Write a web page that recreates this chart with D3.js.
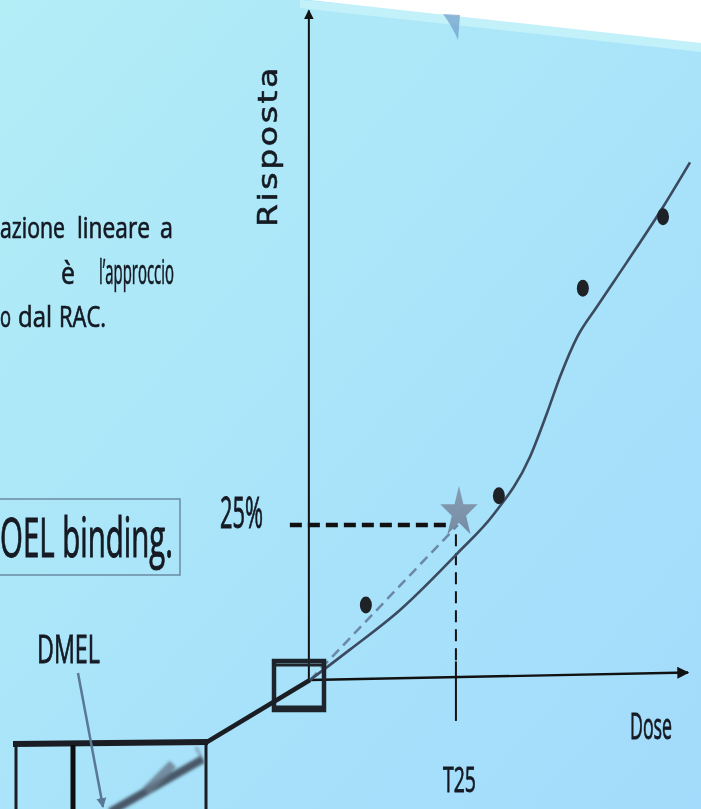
<!DOCTYPE html>
<html lang="it">
<head>
<meta charset="UTF-8">
<title>Risposta / Dose</title>
<script src="https://cdn.jsdelivr.net/npm/d3@7"></script>
<style>
  html, body { margin: 0; padding: 0; background: #fff; }
  svg { display: block; }
</style>
</head>
<body>
<svg id="main" width="701" height="809"></svg>
<script>
    // dose (0-100) / risposta (%)
    const pointDose = [14.7, 49.7, 71.8, 92.9];
    const pointResp = [12.1, 29.7, 63.2, 74.7];

    const curveDose = [0, 10.5, 23.7, 38.9, 48.2, 57.9, 62.4, 65.8, 70.3, 75.5, 83.4, 92.9, 100];
    const curveResp = [0, 4.9, 11.3, 20.5, 26.6, 36.0, 43.1, 48.9, 55.3, 60.2, 67.4, 76.3, 83.5];

    const t25Dose = 38.9;
    const t25Resp = 25;

    // justified paragraph, cut at the left edge of the photo
    const line1 = ["azione", "lineare", "a"];
    const line2 = ["è", "l’approccio"];
    const line3 = ["o", "dal", "RAC."];

    const svg = d3.select('#main');
    const defs = svg.append('defs');

    // squeeze a text into a given width (the slide text is seen at an angle)
    function fitText(g, str, x0, y0, width, size) {
        const t = g.append('text').style('font-size', size + 'px').text(str);
        const len = t.node().getComputedTextLength();
        t.attr('transform', `translate(${x0},${y0}) scale(${width / len},1)`);
        return t;
    }

    // slide background
    const bg = defs.append('linearGradient').attr('id', 'bg')
        .attr('x1', 0).attr('y1', 0).attr('x2', 1).attr('y2', 1);
    bg.append('stop').attr('offset', 0).attr('stop-color', '#b3edf6');
    bg.append('stop').attr('offset', 0.5).attr('stop-color', '#a9e4fa');
    bg.append('stop').attr('offset', 1).attr('stop-color', '#a2dbfb');

    const starGrad = defs.append('linearGradient').attr('id', 'starg')
        .attr('x1', 0).attr('y1', 0).attr('x2', 0).attr('y2', 1);
    starGrad.append('stop').attr('offset', 0).attr('stop-color', '#8699ae');
    starGrad.append('stop').attr('offset', 1).attr('stop-color', '#72889f');

    defs.append('filter').attr('id', 'blur')
        .append('feGaussianBlur').attr('stdDeviation', 1.4);
    defs.append('filter').attr('id', 'soft')
        .append('feGaussianBlur').attr('stdDeviation', 0.4);

    defs.append('marker').attr('id', 'arrowBlack')
        .attr('viewBox', '0 0 10 10').attr('refX', 9).attr('refY', 5)
        .attr('markerWidth', 5).attr('markerHeight', 5).attr('orient', 'auto')
        .append('path').attr('d', 'M0,0 L10,5 L0,10 z').attr('fill', '#111');

    defs.append('marker').attr('id', 'arrowBlue')
        .attr('viewBox', '0 0 10 10').attr('refX', 9).attr('refY', 5)
        .attr('markerWidth', 4).attr('markerHeight', 5).attr('orient', 'auto')
        .append('path').attr('d', 'M0,0 L10,5 L0,10 z').attr('fill', '#587894');

    svg.append('rect').attr('width', 701).attr('height', 809).attr('fill', 'url(#bg)');

    // top edge of the slide (bevel + white beyond it)
    svg.append('polygon').attr('points', '300,0 701,36 701,52 300,8').attr('fill', '#c2f1fa');
    svg.append('polygon').attr('points', '310,0 701,0 701,43').attr('fill', '#ffffff');
    svg.append('path').attr('d', 'M443,14 L460,15 L458,40 Q452,26 443,14 z')
        .attr('fill', '#6f9cc8').attr('opacity', 0.7);

    // scales
    const x = d3.scaleLinear().domain([0, 100]).range([310, 690]);
    const y = d3.scaleLinear().domain([0, 100]).range([680, 60]);

    // left-hand text
    const txt = svg.append('g').attr('fill', '#141a22').attr('filter', 'url(#soft)')
        .attr('stroke', '#141a22').attr('stroke-width', 0.7)
        .style('font-family', '"Open Sans", sans-serif');
    fitText(txt, line1[0], 0, 238, 65, 29);
    fitText(txt, line1[1], 77, 238, 73, 29);
    fitText(txt, line1[2], 160, 238, 13, 29);
    fitText(txt, line2[0], 61, 284, 14, 31);
    fitText(txt, line2[1], 99, 284, 75, 34);
    fitText(txt, line3[0], 0, 327, 11, 30);
    fitText(txt, line3[1], 18, 327, 34, 30);
    fitText(txt, line3[2], 59, 327, 47, 30);

    // boxed statement
    svg.append('rect').attr('x', -2).attr('y', 499).attr('width', 182).attr('height', 76)
        .attr('fill', 'none').attr('stroke', '#6a8aa2').attr('stroke-width', 1.5);
    const boxed = svg.append('g').attr('fill', '#141a22').attr('filter', 'url(#soft)')
        .attr('stroke', '#141a22').attr('stroke-width', 1)
        .style('font-family', '"Open Sans", sans-serif');
    fitText(boxed, 'OEL binding.', 0, 557, 173, 54);

    // axes
    svg.append('line')
        .attr('x1', x(-0.3)).attr('y1', y(0)).attr('x2', x(-0.3)).attr('y2', y(108))
        .attr('stroke', '#111').attr('stroke-width', 2).attr('marker-end', 'url(#arrowBlack)');
    svg.append('line')
        .attr('x1', x(0)).attr('y1', y(0)).attr('x2', x(99.5)).attr('y2', y(1.2))
        .attr('stroke', '#111').attr('stroke-width', 2.4).attr('marker-end', 'url(#arrowBlack)');

    // 25% level
    svg.append('line')
        .attr('x1', x(-5.3)).attr('y1', y(t25Resp)).attr('x2', x(t25Dose - 2)).attr('y2', y(t25Resp))
        .attr('stroke', '#111').attr('stroke-width', 4.5).attr('stroke-dasharray', '12 6');

    // T25 drop line
    svg.append('line')
        .attr('x1', x(t25Dose - 0.5)).attr('y1', y(t25Resp - 1.5)).attr('x2', x(t25Dose - 0.5)).attr('y2', y(3))
        .attr('stroke', '#111').attr('stroke-width', 2).attr('stroke-dasharray', '12 7');
    svg.append('line')
        .attr('x1', x(t25Dose - 0.5)).attr('y1', y(3)).attr('x2', x(t25Dose - 0.5)).attr('y2', y(-6.6))
        .attr('stroke', '#111').attr('stroke-width', 2);

    // linear extrapolation to the T25 point
    svg.append('line')
        .attr('x1', x(0)).attr('y1', y(0)).attr('x2', x(t25Dose)).attr('y2', y(t25Resp))
        .attr('stroke', '#6c88a4').attr('stroke-width', 2.5).attr('stroke-dasharray', '10 6');

    // fitted curve
    const curve = curveDose.map((d, i) => [d, curveResp[i]]);
    svg.append('path').datum(curve)
        .attr('d', d3.line().x(d => x(d[0])).y(d => y(d[1])).curve(d3.curveMonotoneX))
        .attr('fill', 'none').attr('stroke', '#3b4a5e').attr('stroke-width', 2.6);

    // observed points
    svg.selectAll('.pt').data(pointDose).join('ellipse').attr('class', 'pt')
        .attr('cx', d => x(d)).attr('cy', (d, i) => y(pointResp[i]))
        .attr('rx', 6).attr('ry', 8.5).attr('fill', '#1e2126');

    // T25 star
    svg.append('path')
        .attr('d', d3.symbol(d3.symbolStar, 480)())
        .attr('transform', `translate(${x(t25Dose + 0.3)},${y(t25Resp + 2)}) scale(0.95,1.3)`)
        .attr('fill', 'url(#starg)').attr('opacity', 0.95);

    // axis labels
    const lab = svg.append('g').attr('fill', '#141a22').attr('filter', 'url(#soft)')
        .attr('stroke', '#141a22').attr('stroke-width', 0.8)
        .style('font-family', '"Open Sans", sans-serif');
    const risp = lab.append('g').attr('transform', 'translate(277,227) rotate(-90)')
        .attr('stroke-width', 0.5)
        .style('font-family', '"DejaVu Sans", sans-serif').style('letter-spacing', '2px');
    fitText(risp, 'Risposta', 0, 0, 162, 26);
    fitText(lab, '25%', 220, 528, 43, 43);
    fitText(lab, 'T25', 443, 792, 33, 35);
    fitText(lab, 'Dose', 630, 739, 42, 37);
    fitText(lab, 'DMEL', 37, 663, 63, 39);

    // zoom box around the origin and its enlargement
    svg.append('rect').attr('x', 274).attr('y', 661).attr('width', 50).attr('height', 49)
        .attr('fill', 'none').attr('stroke', '#1e242c').attr('stroke-width', 4.5);
    svg.append('line').attr('x1', 274).attr('y1', 665).attr('x2', 324).attr('y2', 665)
        .attr('stroke', '#1e242c').attr('stroke-width', 3);
    svg.append('line').attr('x1', 274).attr('y1', 707).attr('x2', 324).attr('y2', 707)
        .attr('stroke', '#1e242c').attr('stroke-width', 3);
    svg.append('line').attr('x1', x(0)).attr('y1', y(0)).attr('x2', 207).attr('y2', 742)
        .attr('stroke', '#1a1e24').attr('stroke-width', 4.5);

    svg.append('line').attr('x1', 13).attr('y1', 744).attr('x2', 208).attr('y2', 742)
        .attr('stroke', '#1a1e24').attr('stroke-width', 6);
    svg.append('line').attr('x1', 16).attr('y1', 744).attr('x2', 16).attr('y2', 812)
        .attr('stroke', '#1a1e24').attr('stroke-width', 3);
    svg.append('line').attr('x1', 206).attr('y1', 742).attr('x2', 206).attr('y2', 812)
        .attr('stroke', '#1a1e24').attr('stroke-width', 3);
    svg.append('line').attr('x1', 73).attr('y1', 745).attr('x2', 73).attr('y2', 812)
        .attr('stroke', '#0c0e10').attr('stroke-width', 5);

    const blurG = svg.append('g').attr('filter', 'url(#blur)');
    blurG.append('line').attr('x1', 110).attr('y1', 812).attr('x2', 203).attr('y2', 759)
        .attr('stroke', '#3e4a58').attr('stroke-width', 8).attr('opacity', 0.9);
    blurG.append('line').attr('x1', 146).attr('y1', 791).attr('x2', 173).attr('y2', 764)
        .attr('stroke', '#66788a').attr('stroke-width', 9).attr('opacity', 0.8);
    blurG.append('line').attr('x1', 196).attr('y1', 747).attr('x2', 201).attr('y2', 757)
        .attr('stroke', '#6e7f90').attr('stroke-width', 3).attr('opacity', 0.6);

    svg.append('line').attr('x1', 78).attr('y1', 673).attr('x2', 103).attr('y2', 807)
        .attr('stroke', '#587894').attr('stroke-width', 2.5).attr('marker-end', 'url(#arrowBlue)');
</script>
</body>
</html>
